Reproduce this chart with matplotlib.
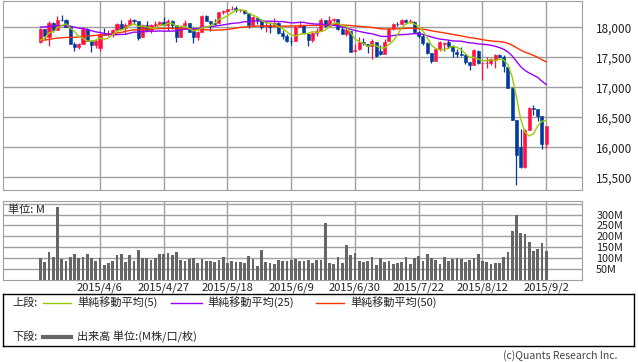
import numpy as np
import pandas as pd
import matplotlib
matplotlib.use("Agg")
import matplotlib.pyplot as plt

plt.rcParams['font.family'] = ['Noto Sans CJK JP', 'DejaVu Sans']

# closes before the window, only used to seed the moving averages (2015/1/2 - 3/13)
prior_close = [
    17832.99, 17501.65, 17371.64, 17584.52, 17907.87, 17737.37, 17640.84, 17613.68, 17427.09, 17320.71,
    17511.57, 17515.23, 17554.28, 17813.98, 17672.60, 17678.70, 17387.21, 17191.37, 17416.85, 17164.95,
    17361.04, 17666.40, 17673.02, 17884.88, 17824.29, 17729.21, 17868.76, 17862.14, 17972.38, 18019.35,
    18047.58, 18029.85, 17985.77, 18140.44, 18116.84, 18209.19, 18224.57, 18214.42, 18132.70,
    18288.63, 18203.37, 18096.90, 18135.72, 17856.78, 17995.72, 17662.94, 17635.39, 17895.22, 17749.31,
]

# 2015/3/16 - 2015/9/2
opens = [
    17750, 17975, 17845, 18076, 17962, 18128, 18116, 18011, 17720, 17673,
    17718, 17974, 17778, 17698, 17650, 17885, 17880, 17890, 17960, 18060,
    17980, 18040, 18115, 18100, 17830, 18035, 17950, 18035, 18060, 18080,
    18035, 18110, 18030, 17845, 18025, 18065, 17930, 17840, 17925, 18190,
    18100, 18070, 18065, 18255, 18270, 18300, 18315, 18280, 18285, 18230,
    18040, 18160, 18125, 18015, 18035, 18015, 18075, 17905, 17849, 17775,
    17767, 18000, 18035, 17895, 17790, 17905, 17940, 18115, 18020, 18120,
    18140, 17965, 17890, 17945, 17600, 17640, 17760, 17720, 17685, 17760,
    17610, 17560, 17775, 17980, 18055, 18060, 18120, 18090, 18095, 17915,
    17850, 17730, 17565, 17445, 17630, 17720, 17750, 17690, 17595, 17555,
    17540, 17415, 17375, 17610, 17400, 17400, 17400, 17450, 17540, 17510,
    17340, 16990, 16460, 16010, 15676, 16290, 16650, 16640, 16528, 16059,
]
highs = [
    17990, 17977, 18100, 18080, 18180, 18200, 18142, 18040, 17760, 17742,
    18000, 17990, 17790, 17800, 17900, 17990, 17950, 17970, 18070, 18120,
    18070, 18150, 18140, 18100, 18050, 18100, 18060, 18100, 18100, 18175,
    18130, 18120, 18040, 18030, 18120, 18070, 18010, 17940, 18210, 18200,
    18110, 18140, 18255, 18290, 18305, 18351, 18350, 18310, 18290, 18230,
    18180, 18165, 18130, 18105, 18080, 18160, 18090, 17960, 17880, 17830,
    18030, 18100, 18040, 17900, 17920, 17980, 18160, 18120, 18190, 18150,
    18140, 18030, 17990, 17945, 17720, 17830, 17820, 17720, 17800, 17760,
    17700, 17800, 17990, 18070, 18080, 18140, 18130, 18140, 18100, 17940,
    17880, 17750, 17570, 17650, 17770, 17760, 17790, 17700, 17640, 17670,
    17560, 17420, 17640, 17615, 17420, 17510, 17490, 17560, 17560, 17530,
    17345, 17000, 16460, 16312, 16312, 16666, 16697, 16640, 16528, 16360,
]
lows = [
    17740, 17800, 17690, 17925, 17962, 18100, 18005, 17717, 17600, 17630,
    17718, 17775, 17580, 17650, 17600, 17870, 17860, 17840, 17950, 17970,
    17900, 18040, 18060, 17790, 17830, 17940, 17900, 18000, 18040, 18030,
    17930, 17970, 17760, 17840, 18020, 17915, 17740, 17790, 17925, 18100,
    17930, 18030, 18065, 18220, 18240, 18280, 18250, 18250, 18215, 17990,
    18040, 18050, 17970, 17920, 17900, 18010, 17880, 17800, 17760, 17700,
    17767, 18000, 17880, 17690, 17760, 17850, 17940, 18000, 18020, 18080,
    17960, 17880, 17860, 17580, 17580, 17620, 17700, 17570, 17465, 17500,
    17540, 17560, 17775, 17960, 18020, 18060, 18060, 18070, 17910, 17820,
    17710, 17555, 17400, 17440, 17600, 17600, 17660, 17500, 17500, 17520,
    17380, 17290, 17375, 17380, 17116, 17320, 17370, 17320, 17480, 17250,
    16985, 16450, 15370, 15651, 15651, 16290, 16545, 16440, 15979, 15990,
]
closes = [
    17977, 17849, 18076, 17959, 18128, 18116, 18011, 17719, 17678, 17713,
    17976, 17776, 17698, 17763, 17881, 17875, 17903, 17959, 18058, 17977,
    18037, 18113, 18106, 17826, 18035, 17950, 18038, 18059, 18080, 18038,
    18110, 18036, 17841, 18024, 18070, 17928, 17842, 17924, 18191, 18105,
    18068, 18060, 18252, 18273, 18299, 18312, 18285, 18286, 18232, 18042,
    18163, 18126, 18011, 18040, 18012, 18076, 17906, 17849, 17767, 17764,
    18000, 18039, 17899, 17791, 17904, 17936, 18116, 18016, 18120, 18144,
    17966, 17890, 17947, 17596, 17620, 17758, 17730, 17684, 17777, 17515,
    17549, 17760, 17978, 18054, 18050, 18120, 18086, 18100, 17919, 17851,
    17732, 17569, 17441, 17630, 17751, 17746, 17690, 17598, 17551, 17540,
    17420, 17373, 17615, 17403, 17403, 17408, 17477, 17545, 17511, 17349,
    16991, 16460, 15871, 15666, 16286, 16655, 16643, 16528, 16058, 16351,
]
# volume in millions
volume = [
    101, 83, 128, 105, 335, 96, 87, 105, 119, 101,
    105, 119, 101, 87, 101, 69, 78, 87, 115, 119,
    83, 115, 87, 138, 101, 101, 92, 101, 119, 119,
    124, 115, 128, 92, 87, 96, 101, 78, 96, 87,
    87, 83, 92, 105, 78, 87, 83, 83, 78, 110,
    96, 64, 138, 83, 78, 73, 92, 87, 87, 92,
    96, 87, 87, 92, 78, 92, 92, 261, 78, 73,
    105, 78, 160, 115, 124, 87, 83, 87, 105, 69,
    101, 83, 87, 73, 78, 83, 105, 73, 101, 110,
    87, 119, 101, 92, 73, 105, 87, 96, 101, 96,
    83, 92, 101, 119, 87, 83, 73, 78, 80, 105,
    128, 225, 300, 216, 211, 174, 133, 142, 170, 133,
]

holidays = ['2015-04-03', '2015-05-25', '2015-07-03']
dates = pd.bdate_range('2015-03-16', '2015-09-02')
dates = dates[~dates.isin(pd.to_datetime(holidays))]

price_ticks = [15500, 16000, 16500, 17000, 17500, 18000]
vol_ticks = [50, 100, 150, 200, 250, 300, 350]

RED = '#ff1144'
BLUE = '#003a9c'
GRID = '#a0a0a0'
TXT = '#222222'

all_close = pd.Series(prior_close + closes)
ma5 = all_close.rolling(5).mean().values[len(prior_close):]
ma25 = all_close.rolling(25).mean().values[len(prior_close):]
ma50 = all_close.rolling(50).mean().values[len(prior_close):]

W, H = 638, 362
fig = plt.figure(figsize=(W / 100, H / 100), dpi=100)


def px_axes(x0, y0, x1, y1):
    return fig.add_axes([x0 / W, 1 - y1 / H, (x1 - x0) / W, (y1 - y0) / H])


x = np.arange(len(closes))
date_idx = list(range(14, len(closes), 15))
date_labels = [f"{dates[i].year}/{dates[i].month}/{dates[i].day}" for i in date_idx]

# --- price panel ---
ax = px_axes(3.3, 1, 582.3, 190.3)
ax.set_xlim(-8.75, 127.5)
ax.set_ylim(15283, 18438)
for s in ax.spines.values():
    s.set_color(GRID)
ax.set_xticks(date_idx)
ax.set_xticklabels([])
ax.set_yticks(price_ticks)
ax.set_yticklabels([f"{p:,}" for p in price_ticks])
ax.yaxis.tick_right()
ax.tick_params(length=0)
ax.tick_params(axis='y', pad=10, labelsize=8.5, labelcolor=TXT)
ax.grid(True, color=GRID, linewidth=1)
ax.set_axisbelow(True)

o = np.array(opens)
c = np.array(closes)
colors = [RED if cc >= oo else BLUE for oo, cc in zip(o, c)]
ax.vlines(x, lows, highs, colors=colors, linewidth=0.9, zorder=2)
ax.bar(x, np.abs(c - o), bottom=np.minimum(o, c), width=0.72,
       color=colors, edgecolor=colors, linewidth=0.4, zorder=3)

ax.plot(x, ma50, color='#ff3300', linewidth=1, zorder=4)
ax.plot(x, ma25, color='#9900ff', linewidth=1, zorder=4)
ax.plot(x, ma5, color='#99cc00', linewidth=1, zorder=4)

# --- volume panel ---
av = px_axes(3.3, 201, 582.3, 280)
av.set_xlim(-8.75, 127.5)
av.set_ylim(0, 362)
for s in av.spines.values():
    s.set_color(GRID)
av.set_xticks(date_idx)
av.set_xticklabels(date_labels)
av.set_yticks(vol_ticks)
av.set_yticklabels([f"{v}M" if v <= 300 else '' for v in vol_ticks])
av.yaxis.tick_right()
av.tick_params(length=0)
av.tick_params(axis='y', pad=10, labelsize=7.8, labelcolor=TXT)
av.tick_params(axis='x', pad=2, labelsize=8, labelcolor=TXT)
av.grid(True, color=GRID, linewidth=1)
av.set_axisbelow(True)
av.bar(x, volume, width=0.65, color='#666666', zorder=3)
fig.text(8 / W, 1 - 210 / H, '単位: M', fontsize=8, va='center', ha='left', color=TXT)

# --- legend box ---
lg = px_axes(3, 294, 634, 346)
lg.set_xlim(3, 634)
lg.set_ylim(346, 294)
lg.set_xticks([])
lg.set_yticks([])
for s in lg.spines.values():
    s.set_color('black')
    s.set_linewidth(1)
row1, row2 = 302.5, 336.5
lg.text(12, row1, '上段:', fontsize=8, va='center', color=TXT)
lg.text(12, row2, '下段:', fontsize=8, va='center', color=TXT)
items = [(43, 71, 77, '#99cc00', '単純移動平均(5)'),
         (171, 202, 207, '#9900ff', '単純移動平均(25)'),
         (316, 344, 350, '#ff3300', '単純移動平均(50)')]
for x0, x1, tx, col, lab in items:
    lg.plot([x0, x1], [row1, row1], color=col, linewidth=1)
    lg.text(tx, row1, lab, fontsize=8, va='center', color=TXT)
lg.plot([43, 71], [row2, row2], color='#666666', linewidth=3)
lg.text(77, row2, '出来高 単位:(M株/口/枚)', fontsize=8, va='center', color=TXT)

fig.text(617 / W, 1 - 356 / H, '(c)Quants Research Inc.', fontsize=7.5, ha='right', va='center',
         color='#444444')

fig.savefig('out.png', dpi=100)
